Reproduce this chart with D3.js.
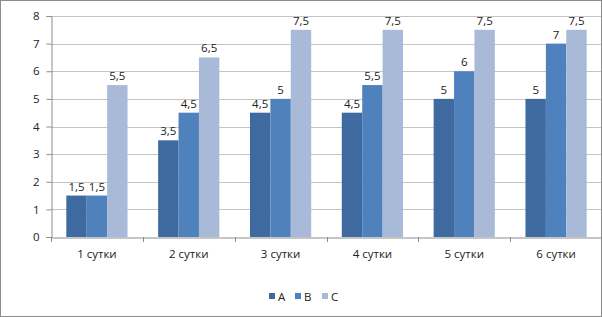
<!DOCTYPE html>
<html>
<head>
<meta charset="utf-8">
<script src="https://cdn.jsdelivr.net/npm/d3@7"></script>
<style>
  body { margin: 0; background: #fff; }
  text { font-family: "Open Sans", "Noto Sans", sans-serif; fill: #222; }
</style>
</head>
<body>
<div id="chart"></div>
<script>
// chart data
const categories = ['1 сутки', '2 сутки', '3 сутки', '4 сутки', '5 сутки', '6 сутки'];
const seriesNames = ['A', 'B', 'C'];
const valuesA = [1.5, 3.5, 4.5, 4.5, 5, 5];
const valuesB = [1.5, 4.5, 5, 5.5, 6, 7];
const valuesC = [5.5, 6.5, 7.5, 7.5, 7.5, 7.5];
const yTicks = [0, 1, 2, 3, 4, 5, 6, 7, 8];

const colors = ['#3F6A9F', '#4F81BD', '#A9BAD9'];
const seriesValues = [valuesA, valuesB, valuesC];

const width = 602, height = 317;
const margin = {top: 16, right: 0, bottom: 80, left: 51};

const svg = d3.select('#chart').append('svg')
  .attr('width', width)
  .attr('height', height);

// outer frame
svg.append('rect')
  .attr('x', 0.5).attr('y', 0.5)
  .attr('width', width - 1).attr('height', height - 1)
  .attr('fill', '#fff')
  .attr('stroke', '#8c8c8c');

const x = d3.scaleBand()
  .domain(categories)
  .range([margin.left, width - margin.right])
  .paddingInner(0).paddingOuter(0);

const xSub = d3.scaleBand()
  .domain(seriesNames)
  .range([0, x.bandwidth()])
  .paddingInner(0)
  .paddingOuter(0.75);

const y = d3.scaleLinear()
  .domain([0, 8])
  .range([height - margin.bottom, margin.top]);

// gridlines
svg.append('g')
  .selectAll('line')
  .data(yTicks.slice(1))
  .join('line')
  .attr('x1', margin.left).attr('x2', width - 1)
  .attr('y1', d => Math.round(y(d)) + 0.5)
  .attr('y2', d => Math.round(y(d)) + 0.5)
  .attr('stroke', '#c4c4c4');

// bars
const groups = svg.append('g')
  .selectAll('g')
  .data(categories)
  .join('g')
  .attr('transform', d => `translate(${x(d)},0)`);

groups.selectAll('rect')
  .data((d, i) => seriesNames.map((s, j) => ({s, j, v: seriesValues[j][i]})))
  .join('rect')
  .attr('x', d => xSub(d.s))
  .attr('width', xSub.bandwidth())
  .attr('y', d => y(d.v))
  .attr('height', d => y(0) - y(d.v))
  .attr('fill', d => colors[d.j]);

// data labels
groups.selectAll('text')
  .data((d, i) => seriesNames.map((s, j) => ({s, j, v: seriesValues[j][i]})))
  .join('text')
  .attr('x', d => xSub(d.s) + xSub.bandwidth() / 2)
  .attr('y', d => y(d.v) - 5)
  .attr('text-anchor', 'middle')
  .attr('font-size', 11.5)
  .text(d => String(d.v).replace('.', ','));

// y axis
const yAxis = svg.append('g')
  .attr('transform', `translate(${margin.left + 0.5},0)`)
  .call(d3.axisLeft(y).tickValues(yTicks).tickSize(5).tickPadding(7).tickFormat(d => d));
yAxis.select('.domain').attr('stroke', '#8c8c8c');
yAxis.selectAll('.tick line').attr('stroke', '#8c8c8c');
yAxis.selectAll('.tick text').attr('font-size', 11.5).style('font-family', '"Open Sans", sans-serif').attr('fill', '#222');

// x axis
const xAxis = svg.append('g')
  .attr('transform', `translate(0,${Math.round(y(0)) + 0.5})`)
  .call(d3.axisBottom(x).tickSize(0).tickPadding(12));
xAxis.select('.domain').attr('stroke', '#8c8c8c');
xAxis.selectAll('.tick text').attr('font-size', 11.5).style('font-family', '"Open Sans", sans-serif').attr('fill', '#222');

// category separator ticks
svg.append('g')
  .selectAll('line')
  .data(categories)
  .join('line')
  .attr('x1', d => Math.round(x(d)) + 0.5)
  .attr('x2', d => Math.round(x(d)) + 0.5)
  .attr('y1', Math.round(y(0)))
  .attr('y2', Math.round(y(0)) + 5)
  .attr('stroke', '#8c8c8c');

// legend
const legend = svg.append('g')
  .attr('transform', 'translate(269,297)');

const legendItems = legend.selectAll('g')
  .data(seriesNames)
  .join('g')
  .attr('transform', (d, i) => `translate(${[0, 26, 53][i]},0)`);

legendItems.append('rect')
  .attr('x', 0).attr('y', -4)
  .attr('width', 6).attr('height', 6)
  .attr('fill', (d, i) => colors[i]);

legendItems.append('text')
  .attr('x', 9)
  .attr('y', 0)
  .attr('dy', '0.35em')
  .attr('font-size', 11.5)
  .text(d => d);
</script>
</body>
</html>
